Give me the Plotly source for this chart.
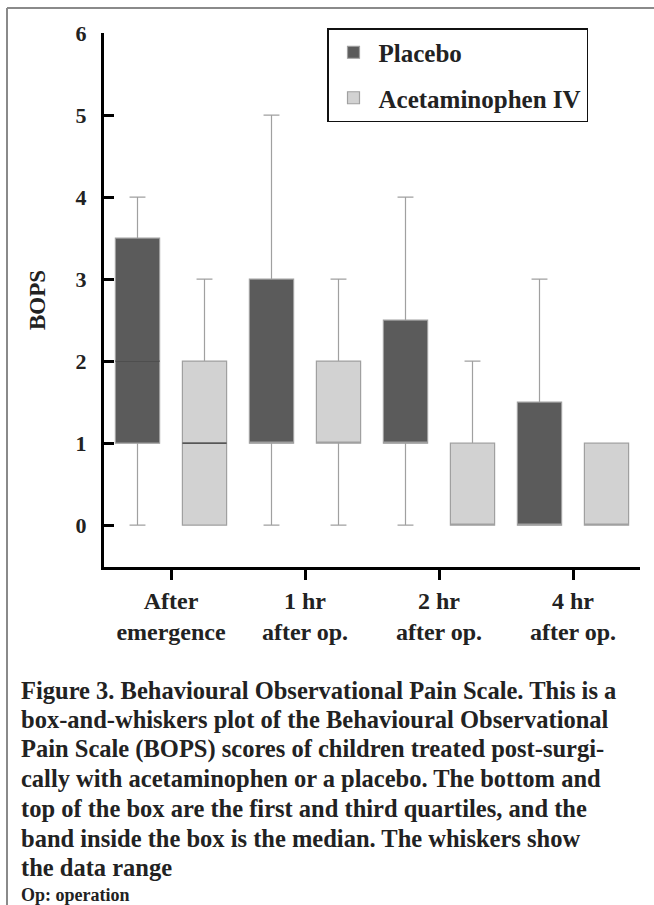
import plotly.graph_objects as go

categories = ["After<br>emergence", "1 hr<br>after op.", "2 hr<br>after op.", "4 hr<br>after op."]

placebo_lower = [0, 0, 0, 0]
placebo_q1 = [1, 1, 1, 0]
placebo_median = [2, 1, 1, 0]
placebo_q3 = [3.5, 3, 2.5, 1.5]
placebo_upper = [4, 5, 4, 3]

acet_lower = [0, 0, 0, 0]
acet_q1 = [0, 1, 0, 0]
acet_median = [1, 1, 0, 0]
acet_q3 = [2, 2, 1, 1]
acet_upper = [3, 3, 2, 1]

y_ticks = [0, 1, 2, 3, 4, 5, 6]

caption_lines = [
    "Figure 3. Behavioural Observational Pain Scale. This is a",
    "box-and-whiskers plot of the Behavioural Observational",
    "Pain Scale (BOPS) scores of children treated post-surgi-",
    "cally with acetaminophen or a placebo. The bottom and",
    "top of the box are the first and third quartiles, and the",
    "band inside the box is the median. The whiskers show",
    "the data range",
]
footnote = "Op: operation"

FONT = "Liberation Serif"
INK = "#222222"
W, H = 654, 905
L, R, T, B = 104, 14, 33, 338
PW, PH = W - L - R, H - T - B


def px_x(px):
    return (px - L) / PW


def px_y(py):
    return (H - B - py) / PH


def f(size):
    return dict(family=FONT, size=size, color=INK, weight="bold")


series = [
    ("Placebo", "p", placebo_lower, placebo_q1, placebo_median, placebo_q3, placebo_upper, "#5b5b5b"),
    ("Acetaminophen IV", "a", acet_lower, acet_q1, acet_median, acet_q3, acet_upper, "#d2d2d2"),
]

fig = go.Figure()
for name, grp, lo, q1, med, q3, up, fill in series:
    fig.add_trace(go.Box(
        name=name, x=categories, lowerfence=lo, q1=q1, median=med, q3=q3, upperfence=up,
        fillcolor=fill, line=dict(color="#a0a0a0", width=1.2), whiskerwidth=0.36,
        offsetgroup=grp, alignmentgroup="all", legendgroup=grp, boxpoints=False,
        hoverinfo="skip",
    ))

# median bands drawn darker where they fall strictly inside the box
for name, grp, lo, q1, med, q3, up, fill in series:
    idx = [i for i in range(len(categories)) if q1[i] < med[i] < q3[i]]
    xs = [categories[i] for i in idx]
    ms = [med[i] for i in idx]
    fig.add_trace(go.Box(
        name=name, x=xs, lowerfence=ms, q1=ms, median=ms, q3=ms, upperfence=ms,
        fillcolor="rgba(0,0,0,0)", line=dict(color="#3a3a3a", width=1.2), whiskerwidth=0,
        offsetgroup=grp, alignmentgroup="all", legendgroup=grp, showlegend=False,
        boxpoints=False, hoverinfo="skip",
    ))

annotations = []
for i, line in enumerate(caption_lines):
    annotations.append(dict(
        text=line, xref="paper", yref="paper", x=px_x(19), y=px_y(690 + 29.6 * i),
        xanchor="left", yanchor="middle", align="left", showarrow=False, font=f(24.5),
    ))
annotations.append(dict(
    text=footnote, xref="paper", yref="paper", x=px_x(19), y=px_y(895),
    xanchor="left", yanchor="middle", align="left", showarrow=False, font=f(18),
))

fig.update_layout(
    width=W, height=H,
    margin=dict(l=L, r=R, t=T, b=B),
    paper_bgcolor="white", plot_bgcolor="white",
    font=f(16),
    boxmode="group", boxgap=0, boxgroupgap=0.34,
    showlegend=True,
    legend=dict(
        x=px_x(327), y=px_y(28), xanchor="left", yanchor="top",
        bgcolor="white", bordercolor="#111111", borderwidth=1.5,
        font=f(25), tracegroupgap=10, itemwidth=40,
    ),
    xaxis=dict(
        type="category", categoryorder="array", categoryarray=categories,
        range=[-0.5, 3.5], showline=True, linecolor="black", linewidth=3,
        ticks="outside", ticklen=10, tickwidth=3, tickcolor="black",
        tickfont=f(24), showgrid=False, zeroline=False,
    ),
    yaxis=dict(
        range=[-0.51, 6], tickvals=y_ticks, showline=True, linecolor="black", linewidth=3,
        ticks="inside", ticklen=10, tickwidth=3, tickcolor="black",
        tickfont=f(22), ticklabelstandoff=10,
        title=dict(text="BOPS", font=f(23), standoff=24),
        showgrid=False, zeroline=False,
    ),
    shapes=[
        dict(type="line", xref="paper", yref="paper", x0=px_x(7), x1=px_x(654), y0=px_y(8), y1=px_y(8),
             line=dict(color="#8a8a8a", width=2)),
        dict(type="line", xref="paper", yref="paper", x0=px_x(7), x1=px_x(7), y0=px_y(8), y1=px_y(905),
             line=dict(color="#8a8a8a", width=2)),
    ],
    annotations=annotations,
)

fig.write_html("out.html")
